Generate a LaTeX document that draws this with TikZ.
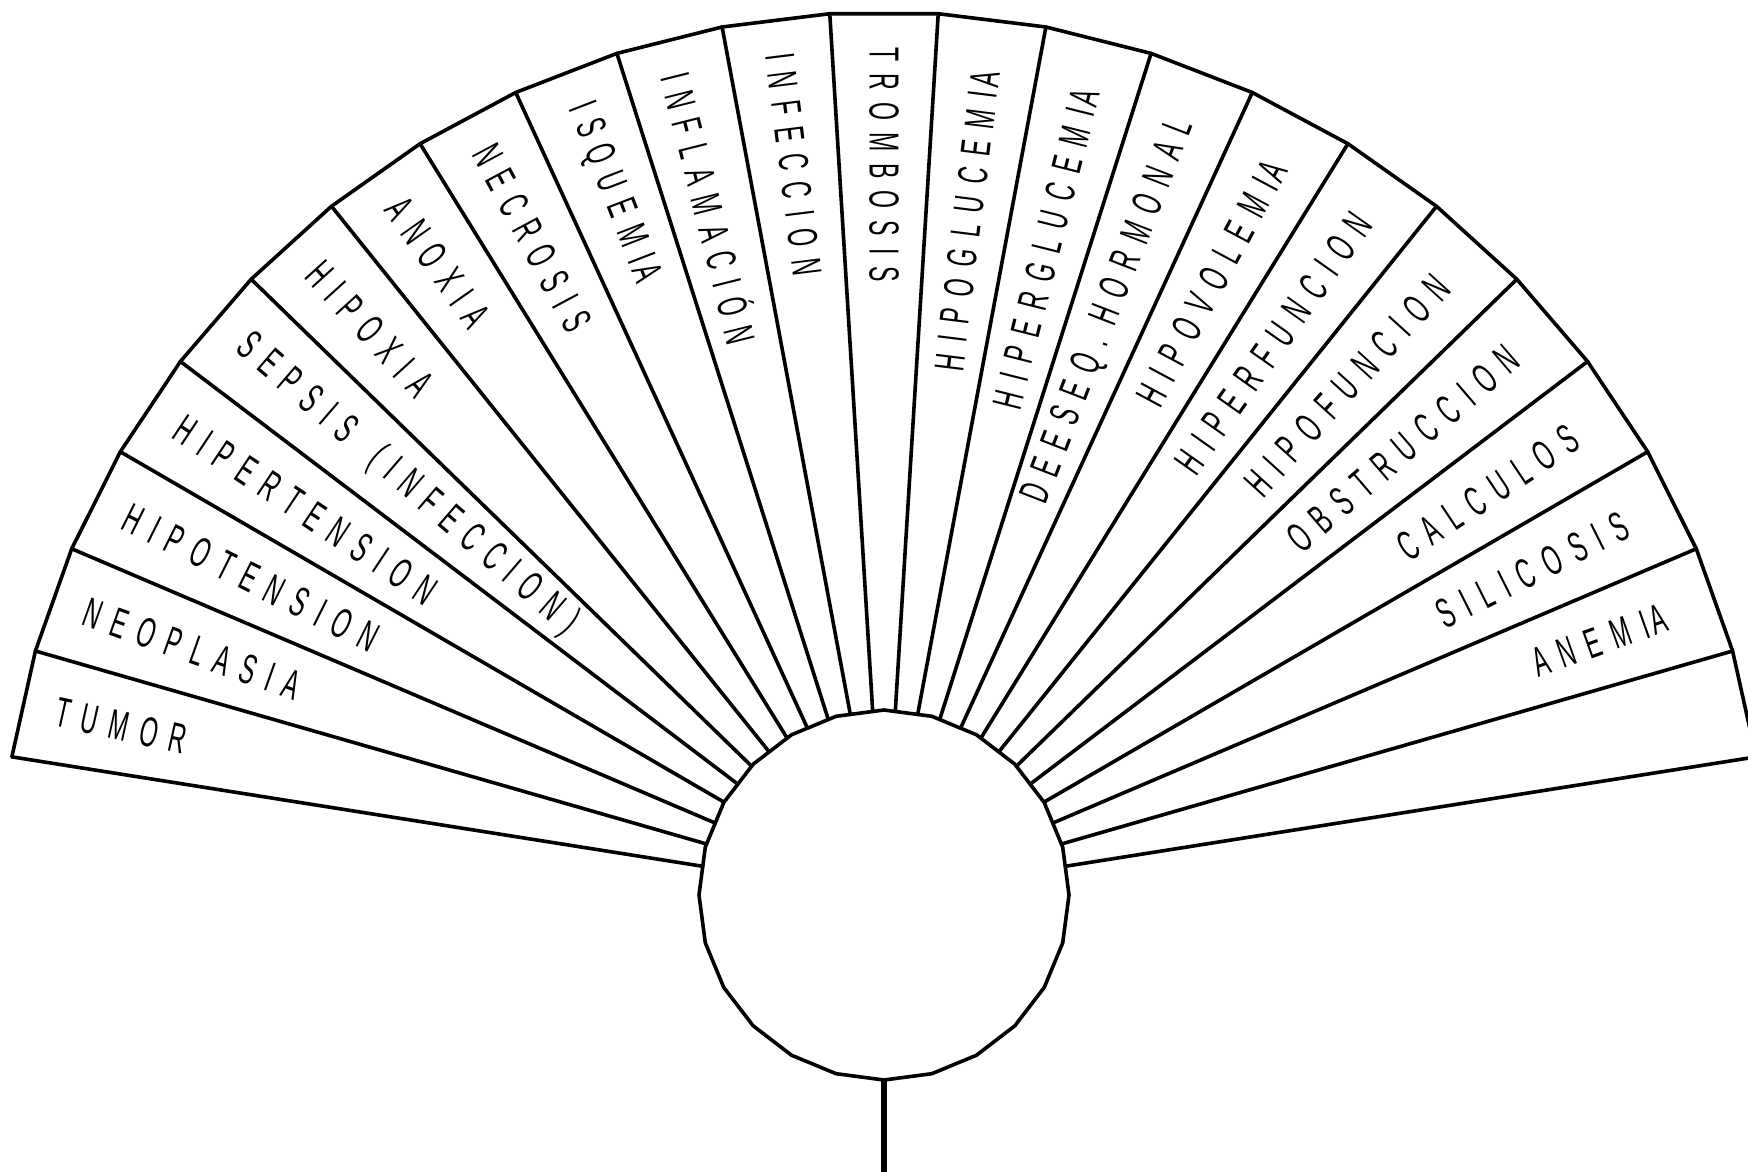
\documentclass[tikz,border=0pt]{standalone}
\usepackage{fontspec}
\newfontfamily\labfont[FakeStretch=0.55]{Liberation Sans}
\newdimen\lk \lk=6pt
\def\lsp#1{\kern-\lk\lspx#1\relax}
\def\lspx#1{\ifx\relax#1\else\kern\lk#1\expandafter\lspx\fi}
\def\IA{I\kern2ptA}
\tikzset{
  lab/.style={font=\labfont\fontsize{21pt}{21pt}\selectfont, inner sep=0pt},
  fanline/.style={line width=1.8pt, line join=round, line cap=round},
  stemline/.style={line width=3pt}
}
\begin{document}
\begin{tikzpicture}[x=0.5pt,y=0.5pt]
\useasboundingbox (-884,-276) rectangle (864,895);
\clip (-884,-276) rectangle (864,895);
\coordinate (c) at (0,0);
% hub (24-gon)
\draw[fanline] (0:185) \foreach \a in {15,30,...,345} {-- (\a:185)} -- cycle;
% rays
\foreach \k in {0,...,23} {
  \pgfmathsetmacro\ang{9+\k*162/23}
  \pgfmathsetmacro\rh{185*cos(7.5)/cos(mod(\ang,15)-7.5)}
  \coordinate (h\k) at (\ang:\rh);
  \coordinate (o\k) at (\ang:883);
  \draw[fanline] (h\k) -- (o\k);
}
% outer edge
\draw[fanline] (o0) \foreach \k in {1,...,23} {-- (o\k)};
% stem
\coordinate (hb) at (-90:185);
\coordinate (st) at (0,-290);
\draw[stemline] (hb) -- (st);
% labels
\foreach \j/\t in {1/ANEM\IA,2/SILICOSIS,3/CALCULOS,4/OBSTRUCCION,5/HIPOFUNCION,
  6/HIPERFUNCION,7/HIPOVOLEM\IA,8/DEESEQ{.\kern2pt}HORMONAL,9/HIPERGLUCEM\IA,10/HIPOGLUCEM\IA}{
  \pgfmathsetmacro\m{9+(\j+0.5)*162/23}
  \node[lab, rotate=\m, anchor=east] (l\j) at (\m:830) {\expandafter\lsp\expandafter{\t}};
}
\foreach \j/\t in {11/TROMBOSIS,12/INFECCION,13/INFLAMACIÓN,14/ISQUEM\IA,15/NECROSIS,
  16/ANOXIA,17/HIPOXIA,18/SEPSIS~(INFECCION),19/HIPERTENSION,20/HIPOTENSION,
  21/NEOPLASIA,22/TUMOR}{
  \pgfmathsetmacro\m{9+(\j+0.5)*162/23}
  \node[lab, rotate=\m-180, anchor=west] (l\j) at (\m:848) {\expandafter\lsp\expandafter{\t}};
}
\end{tikzpicture}
\end{document}
